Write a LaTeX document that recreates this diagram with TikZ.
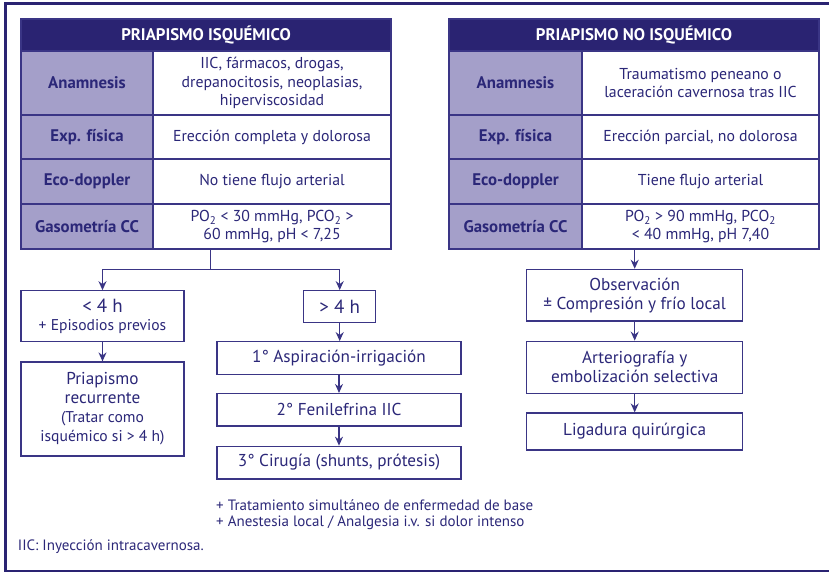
\documentclass[tikz,border=0pt]{standalone}
\usepackage{fontspec}
\setmainfont{PT Sans}
\usetikzlibrary{arrows.meta,positioning,calc}
\definecolor{cHead}{HTML}{2A2372}
\definecolor{cLine}{HTML}{3A3585}
\definecolor{cLav}{HTML}{A49FC9}
\definecolor{cText}{HTML}{2B2778}
\newcommand{\tabfont}{\fontsize{15.8}{18.4}\selectfont}
\newcommand{\labfont}{\fontsize{16.8}{18.4}\selectfont\bfseries}
\newcommand{\bigfont}{\fontsize{17.2}{19}\selectfont}
\newcommand{\hrsfont}{\fontsize{19}{19}\selectfont}
\newcommand{\smlfont}{\fontsize{15.6}{19}\selectfont}
\tikzset{
  frame/.style={draw=cHead,line width=2.2pt},
  hdr/.style={fill=cHead,draw=cLine,line width=1.6pt,text=white,inner sep=0pt,
    minimum width=370pt,minimum height=32pt,font=\labfont},
  lab/.style={fill=cLav,draw=cLine,line width=1.6pt,text=cText,inner sep=0pt,
    align=center,font=\labfont},
  cell/.style={fill=white,draw=cLine,line width=1.6pt,text=cText,inner sep=0pt,
    align=center,font=\tabfont},
  flow/.style={fill=white,draw=cLine,line width=1.2pt,text=cText,inner sep=0pt,
    align=center,font=\bigfont},
  note/.style={text=cText,anchor=west,inner sep=0pt,font=\fontsize{15}{18}\selectfont},
  link/.style={line width=1.3pt,cLine},
  arr/.style={link,-{Stealth[length=9pt,width=8pt]}},
}

\begin{document}
\begin{tikzpicture}[x=1pt,y=-1pt]
\useasboundingbox (0,0) rectangle (829,573);
\draw[frame] (840,3.5) -- (5.5,3.5) -- (5.5,571) -- (840,571);

% isquemico
\node[hdr] (hL) at (206,35) {PRIAPISMO ISQUÉMICO};
\node[lab,minimum width=132pt,minimum height=64pt] (anaL) at (87,83) {Anamnesis};
\node[cell,minimum width=238pt,minimum height=64pt] (anaLv) at (272,83)
  {IIC, fármacos, drogas,\\drepanocitosis, neoplasias,\\hiperviscosidad};
\node[lab,minimum width=132pt,minimum height=44pt] (expL) at (87,137) {Exp. física};
\node[cell,minimum width=238pt,minimum height=44pt] (expLv) at (272,137)
  {Erección completa y dolorosa};
\node[lab,minimum width=132pt,minimum height=45pt] (ecoL) at (87,181.5) {Eco-doppler};
\node[cell,minimum width=238pt,minimum height=45pt] (ecoLv) at (272,181.5)
  {No tiene flujo arterial};
\node[lab,minimum width=132pt,minimum height=45pt] (gasL) at (87,226.75) {Gasometría CC};
\node[cell,minimum width=238pt,minimum height=45pt] (gasLv) at (272,226.75)
  {PO\textsubscript{2} < 30 mmHg, PCO\textsubscript{2} >\\60 mmHg, pH < 7,25};

% no isquemico
\node[hdr] (hR) at (634,35) {PRIAPISMO NO ISQUÉMICO};
\node[lab,minimum width=133pt,minimum height=64pt] (anaR) at (515.5,83) {Anamnesis};
\node[cell,minimum width=237pt,minimum height=64pt] (anaRv) at (700.5,83)
  {Traumatismo peneano o\\laceración cavernosa tras IIC};
\node[lab,minimum width=133pt,minimum height=44pt] (expR) at (515.5,137) {Exp. física};
\node[cell,minimum width=237pt,minimum height=44pt] (expRv) at (700.5,137)
  {Erección parcial, no dolorosa};
\node[lab,minimum width=133pt,minimum height=45pt] (ecoR) at (515.5,181.5) {Eco-doppler};
\node[cell,minimum width=237pt,minimum height=45pt] (ecoRv) at (700.5,181.5)
  {Tiene flujo arterial};
\node[lab,minimum width=133pt,minimum height=45pt] (gasR) at (515.5,226.75) {Gasometría CC};
\node[cell,minimum width=237pt,minimum height=45pt] (gasRv) at (700.5,226.75)
  {PO\textsubscript{2} > 90 mmHg, PCO\textsubscript{2}\\< 40 mmHg, pH 7,40};

% flujo izquierdo
\node[flow,minimum width=163pt,minimum height=51pt] (lt4) at (102.5,316.3)
  {{\hrsfont < 4 h}\\[-1pt]{\smlfont + Episodios previos}};
\node[flow,minimum width=163pt,minimum height=94pt] (rec) at (102.5,409)
  {Priapismo\\recurrente\\{\smlfont (Tratar como}\\{\smlfont isquémico si > 4 h)}};
\node[flow,minimum width=72pt,minimum height=32pt,font=\hrsfont] (gt4) at (339.7,306.7) {> 4 h};
\node[flow,minimum width=244pt,minimum height=33pt] (s1) at (339,358.2)
  {1° Aspiración-irrigación};
\node[flow,minimum width=244pt,minimum height=32.5pt] (s2) at (339,409.8)
  {2° Fenilefrina IIC};
\node[flow,minimum width=244pt,minimum height=32.7pt] (s3) at (339,462.6)
  {3° Cirugía (shunts, prótesis)};

% flujo derecho
\node[flow,minimum width=216pt,minimum height=51.7pt] (obs) at (634.7,295.2)
  {Observación\\± Compresión y frío local};
\node[flow,minimum width=216pt,minimum height=52pt] (art) at (634.7,367.2)
  {Arteriografía y\\embolización selectiva};
\node[flow,minimum width=216pt,minimum height=37pt] (lig) at (634.7,431.5)
  {Ligadura quirúrgica};

% notas
\node[note] (n1) at (216,505) {+ Tratamiento simultáneo de enfermedad de base};
\node[note] (n2) at (216,523) {+ Anestesia local / Analgesia i.v. si dolor intenso};
\node[note] (iic) at (17.7,546.7) {IIC: Inyección intracavernosa.};

% conectores
\coordinate (split) at (210.7,269.3);
\draw[link] (split |- gasLv.south) -- (split);
\draw[arr] (split) -| (lt4.north);
\draw[arr] (split) -| (gt4.north);
\draw[arr] (lt4) -- (rec);
\draw[arr] (gt4.south) -- (gt4.south |- s1.north);
\draw[arr] (s1) -- (s2);
\draw[arr] (s2) -- (s3);
\draw[arr] (obs.north |- gasRv.south) -- (obs.north);
\draw[arr] (obs) -- (art);
\draw[arr] (art) -- (lig);
\end{tikzpicture}
\end{document}
